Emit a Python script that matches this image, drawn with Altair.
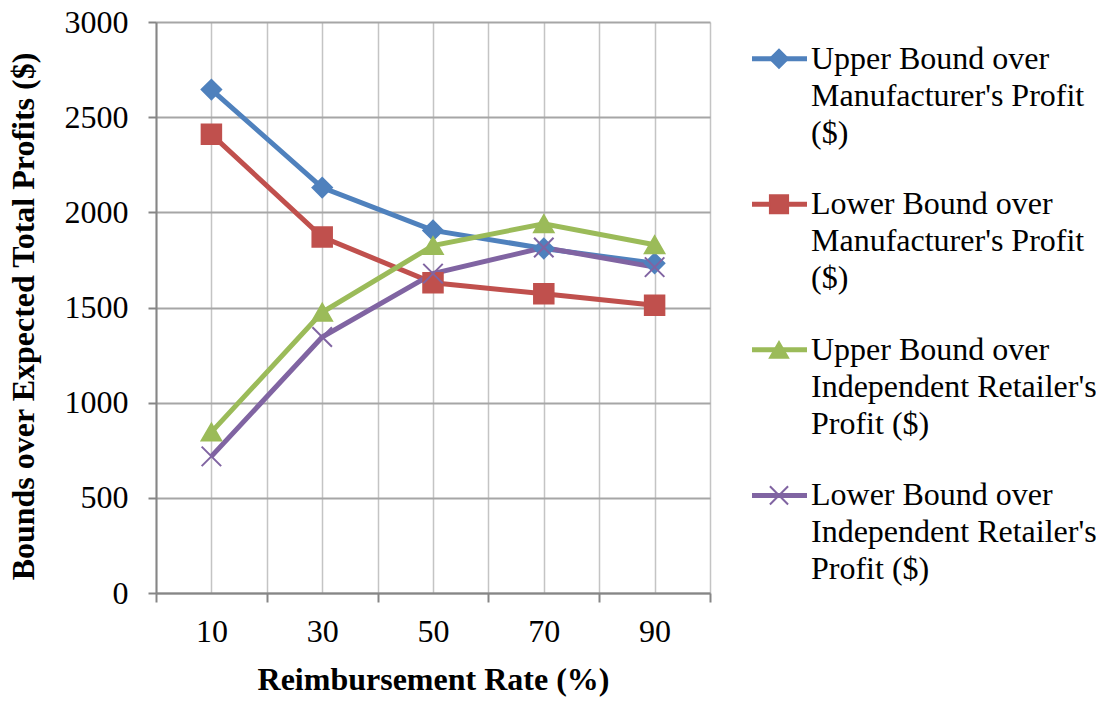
import altair as alt
import pandas as pd

# ---- data ----
rates = [10, 30, 50, 70, 90]
series_names = [
    "Upper Bound over Manufacturer's Profit ($)",
    "Lower Bound over Manufacturer's Profit ($)",
    "Upper Bound over Independent Retailer's Profit ($)",
    "Lower Bound over Independent Retailer's Profit ($)",
]
legend_labels = [
    "Upper Bound over\nManufacturer's Profit\n($)",
    "Lower Bound over\nManufacturer's Profit\n($)",
    "Upper Bound over\nIndependent Retailer's\nProfit ($)",
    "Lower Bound over\nIndependent Retailer's\nProfit ($)",
]
upper_mfr = [2645, 2130, 1905, 1810, 1732]
lower_mfr = [2410, 1870, 1630, 1572, 1512]
upper_ret = [845, 1475, 1825, 1940, 1830]
lower_ret = [718, 1345, 1678, 1815, 1712]
series_values = [upper_mfr, lower_mfr, upper_ret, lower_ret]

x_grid_values = [0, 10, 20, 30, 40, 50, 60, 70, 80, 90, 100]
x_tick_values = [0, 20, 40, 60, 80, 100]
y_tick_values = [0, 500, 1000, 1500, 2000, 2500, 3000]

colors = ["#4F81BD", "#C0504D", "#9BBB59", "#8064A2"]
shapes = ["diamond", "square", "triangle-up", "M-1,-1L1,1M-1,1L1,-1"]

rows = []
for name, vals in zip(series_names, series_values):
    for r, v in zip(rates, vals):
        rows.append({"series": name, "rate": r, "value": v})
df = pd.DataFrame(rows)

legend_df = pd.DataFrame({"series": series_names, "label": legend_labels})

FONT = "Liberation Serif"
AXIS_GRAY = "#868686"

color_scale = alt.Scale(domain=series_names, range=colors)
shape_scale = alt.Scale(domain=series_names, range=shapes)
x_scale = alt.Scale(domain=[0, 100], nice=False, zero=False)
y_scale = alt.Scale(domain=[0, 3000], nice=False)

y_axis = alt.Axis(
    values=y_tick_values,
    format="d",
    grid=True,
    gridColor="#A6A6A6",
    gridWidth=2,
    tickSize=8,
    tickColor=AXIS_GRAY,
    tickWidth=2,
    domainColor=AXIS_GRAY,
    domainWidth=2,
    labelFont=FONT,
    labelFontSize=32,
    labelColor="black",
    labelPadding=20,
    title="Bounds over Expected Total Profits ($)",
    titleFont=FONT,
    titleFontSize=32,
    titleFontWeight="bold",
    titleColor="black",
    titleAngle=-90,
    titleAlign="center",
    titleBaseline="middle",
    titleX=-133,
    titleY=294,
)

base = alt.Chart(df)

lines = base.mark_line(strokeWidth=5).encode(
    x=alt.X(
        "rate:Q",
        scale=x_scale,
        axis=alt.Axis(
            orient="bottom",
            values=x_grid_values,
            labelExpr="datum.value % 20 == 10 ? datum.label : ''",
            labelOverlap=False,
            labelFlush=False,
            grid=True,
            gridColor="#C4C4C4",
            gridWidth=1.5,
            ticks=False,
            tickSize=0,
            domainColor=AXIS_GRAY,
            domainWidth=2,
            labelFont=FONT,
            labelFontSize=32,
            labelColor="black",
            labelBaseline="alphabetic",
            labelPadding=48,
            title="Reimbursement Rate (%)",
            titleFont=FONT,
            titleFontSize=32,
            titleFontWeight="bold",
            titleColor="black",
            titleBaseline="alphabetic",
            titleY=96,
        ),
    ),
    y=alt.Y("value:Q", scale=y_scale, axis=y_axis),
    color=alt.Color("series:N", scale=color_scale, legend=None),
    detail="series:N",
)

points = base.mark_point(filled=True, size=380, strokeWidth=2, opacity=1).encode(
    x=alt.X(
        "rate:Q",
        scale=x_scale,
        axis=alt.Axis(
            orient="bottom",
            values=x_tick_values,
            labels=False,
            grid=False,
            domain=False,
            ticks=True,
            tickSize=9,
            tickColor=AXIS_GRAY,
            tickWidth=2,
            title=None,
        ),
    ),
    y=alt.Y("value:Q", scale=y_scale, axis=y_axis),
    color=alt.Color("series:N", scale=color_scale, legend=None),
    stroke=alt.Stroke("series:N", scale=color_scale, legend=None),
    shape=alt.Shape("series:N", scale=shape_scale, legend=None),
)

plot = alt.layer(lines, points).resolve_axis(x="independent")

# ---- hand-built legend (line + marker + wrapped label) ----
leg_y = alt.Y(
    "series:N",
    scale=alt.Scale(type="point", domain=series_names, padding=0.461, align=0.273),
    axis=None,
)
leg_base = alt.Chart(legend_df)
leg_rule = leg_base.mark_rule(strokeWidth=5).encode(
    x=alt.value(596),
    x2=alt.value(651),
    y=leg_y,
    color=alt.Color("series:N", scale=color_scale, legend=None),
)
leg_point = leg_base.mark_point(filled=True, size=330, strokeWidth=2, opacity=1).encode(
    x=alt.value(623),
    y=leg_y,
    color=alt.Color("series:N", scale=color_scale, legend=None),
    stroke=alt.Stroke("series:N", scale=color_scale, legend=None),
    shape=alt.Shape("series:N", scale=shape_scale, legend=None),
)
leg_text = leg_base.mark_text(
    align="left",
    baseline="top",
    dy=-15,
    lineBreak="\n",
    lineHeight=37,
    font=FONT,
    fontSize=32,
    color="black",
).encode(
    x=alt.value(655),
    y=leg_y,
    text="label:N",
)
legend = alt.layer(leg_rule, leg_point, leg_text)

chart = (
    alt.layer(plot, legend)
    .resolve_scale(y="independent")
    .properties(
        width=554,
        height=571,
        padding={"left": 148, "top": 14, "right": 386, "bottom": 104},
        autosize=alt.AutoSizeParams(type="none"),
        background="white",
    )
    .configure_view(stroke=None)
)

chart.save("out.html", embed_options={"renderer": "svg", "actions": False})
